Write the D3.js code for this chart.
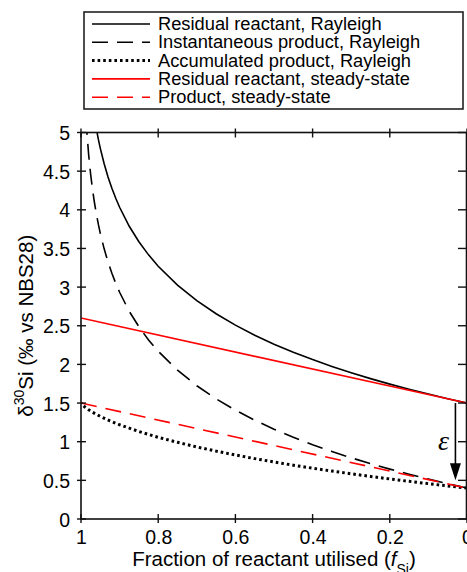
<!DOCTYPE html>
<html><head><meta charset="utf-8">
<script src="https://cdn.jsdelivr.net/npm/d3@7"></script>
<style>
html,body{margin:0;padding:0;background:#fff;}
svg{display:block;}
text{font-family:"Liberation Sans",Arial,Helvetica,sans-serif;fill:#000;}
</style></head>
<body><svg id="c" width="467" height="572"></svg>
<script>
// ---- data ----
const fracRayleigh = [0,0.05,0.1,0.15,0.2,0.25,0.3,0.35,0.4,0.45,0.5,0.55,0.6,0.65,0.7,0.75,0.8,0.825,0.85,0.875,0.9,0.91,0.92,0.93,0.94,0.95,0.955,0.96];
const residualRayleigh = [1.500,1.556,1.616,1.679,1.745,1.816,1.892,1.974,2.062,2.158,2.262,2.378,2.508,2.655,2.824,3.025,3.270,3.417,3.587,3.787,4.033,4.149,4.278,4.425,4.595,4.795,4.911,5.041];
const fracInstant = [0,0.05,0.1,0.15,0.2,0.25,0.3,0.35,0.4,0.45,0.5,0.55,0.6,0.65,0.7,0.75,0.8,0.825,0.85,0.875,0.9,0.91,0.92,0.93,0.94,0.95,0.955,0.96,0.965,0.97,0.975,0.98,0.985];
const instantRayleigh = [0.400,0.456,0.516,0.579,0.645,0.716,0.792,0.874,0.962,1.058,1.162,1.278,1.408,1.555,1.724,1.925,2.170,2.317,2.487,2.687,2.933,3.049,3.178,3.325,3.495,3.695,3.811,3.941,4.088,4.257,4.458,4.703,5.020];
const fracAccum = [0,0.05,0.1,0.15,0.2,0.25,0.3,0.35,0.4,0.45,0.5,0.55,0.6,0.65,0.7,0.75,0.8,0.85,0.9,0.925,0.95,0.97,0.98,0.99,0.995,1];
const accumRayleigh = [0.400,0.428,0.457,0.487,0.518,0.551,0.585,0.620,0.657,0.696,0.738,0.781,0.828,0.878,0.932,0.992,1.057,1.132,1.219,1.269,1.327,1.381,1.412,1.449,1.471,1.500];
const fracSteady = [1,0];
const residualSteady = [2.6,1.5];
const productSteady = [1.5,0.4];
const epsilonArrow = {frac:0.03, from:1.5, to:0.5};
const xTicks = [1,0.8,0.6,0.4,0.2,0];
const xTickLabels = ["1","0.8","0.6","0.4","0.2","0"];
const yTicks = [0,0.5,1,1.5,2,2.5,3,3.5,4,4.5,5];
const yTickLabels = ["0","0.5","1","1.5","2","2.5","3","3.5","4","4.5","5"];
const legendLabels = ["Residual reactant, Rayleigh","Instantaneous product, Rayleigh","Accumulated product, Rayleigh","Residual reactant, steady-state","Product, steady-state"];

// ---- layout ----
const svg = d3.select("#c");
const L = 81, R = 467, T = 132.5, B = 519;
const x = d3.scaleLinear().domain([1,0]).range([L,R]);
const y = d3.scaleLinear().domain([0,5]).range([B,T]);

const styles = [
  {color:"#000", w:1.6, dash:null},
  {color:"#000", w:1.6, dash:"16,9"},
  {color:"#000", w:3, dash:"2.6,3"},
  {color:"#ff0000", w:1.6, dash:null},
  {color:"#ff0000", w:1.6, dash:"16,9"}
];

svg.append("defs").append("clipPath").attr("id","clip")
  .append("rect").attr("x",L).attr("y",T).attr("width",R-L).attr("height",B-T);

const g = svg.append("g").attr("clip-path","url(#clip)");
const line = d3.line().x(d=>x(d[0])).y(d=>y(d[1]));
const zip = (a,b)=>a.map((v,i)=>[v,b[i]]);
const series = [
  zip(fracRayleigh,residualRayleigh),
  zip(fracInstant,instantRayleigh),
  zip(fracAccum,accumRayleigh),
  zip(fracSteady,residualSteady),
  zip(fracSteady,productSteady)
];
[2,0,1,4,3].forEach(i=>{
  const s = styles[i];
  g.append("path").datum(series[i]).attr("d",line)
    .attr("fill","none").attr("stroke",s.color).attr("stroke-width",s.w)
    .attr("stroke-dasharray",s.dash);
});

// axes frame
const axCol = "#111";
svg.append("rect").attr("x",L).attr("y",T).attr("width",R-L-0.5).attr("height",B-T)
  .attr("fill","none").attr("stroke",axCol).attr("stroke-width",1.6);

// bottom axis labels
const xb = svg.append("g").attr("transform",`translate(0,${B})`)
  .call(d3.axisBottom(x).tickValues(xTicks).tickSize(0).tickFormat((d,i)=>xTickLabels[i]));
xb.select(".domain").remove();
xb.selectAll("text").attr("y",25).attr("dy",0).style("font-size","19.5px").style("font-family","Liberation Sans, Arial, sans-serif").attr("fill","#000");
// left axis labels
const yl = svg.append("g").attr("transform",`translate(${L},0)`)
  .call(d3.axisLeft(y).tickValues(yTicks).tickSize(0).tickFormat((d,i)=>yTickLabels[i]));
yl.select(".domain").remove();
yl.selectAll("text").attr("x",-11).attr("dy","0.36em").style("font-size","19.5px").style("font-family","Liberation Sans, Arial, sans-serif").attr("fill","#000");

// tick marks (crossing axis lines)
const tk = svg.append("g").attr("stroke",axCol).attr("stroke-width",1.4);
xTicks.forEach(v=>{
  tk.append("line").attr("x1",x(v)).attr("x2",x(v)).attr("y1",B-5).attr("y2",B+4);
  tk.append("line").attr("x1",x(v)).attr("x2",x(v)).attr("y1",T-4).attr("y2",T+5);
});
yTicks.forEach(v=>{
  tk.append("line").attr("x1",L-4).attr("x2",L+5).attr("y1",y(v)).attr("y2",y(v));
  tk.append("line").attr("x1",R-9).attr("x2",R).attr("y1",y(v)).attr("y2",y(v));
});

// epsilon arrow
const ax = x(epsilonArrow.frac);
const y0 = y(epsilonArrow.from), y1 = y(epsilonArrow.to);
svg.append("line").attr("x1",ax).attr("x2",ax).attr("y1",y0).attr("y2",y1-14)
  .attr("stroke","#000").attr("stroke-width",1.6);
svg.append("path").attr("d",`M${ax-5.5},${y1-17} L${ax+5.5},${y1-17} L${ax},${y1} Z`).attr("fill","#000");
svg.append("text").attr("x",ax-12).attr("y",(y0+y1)/2+8).attr("text-anchor","middle")
  .style("font-family","Liberation Serif, Times New Roman, serif").style("font-style","italic")
  .style("font-size","28px").text("ε");

// axis titles
const xt = svg.append("text").attr("x",(L+R)/2).attr("y",566).attr("text-anchor","middle").style("font-size","20.5px");
xt.append("tspan").text("Fraction of reactant utilised (");
xt.append("tspan").style("font-style","italic").text("f");
xt.append("tspan").attr("dy",8).style("font-size","14px").text("Si");
xt.append("tspan").attr("dy",-8).text(")");

const ytt = svg.append("text").attr("transform",`translate(33,${(T+B)/2}) rotate(-90)`).attr("text-anchor","middle").style("font-size","20.5px");
ytt.append("tspan").text("δ");
ytt.append("tspan").attr("dy",-9).style("font-size","14px").text("30");
ytt.append("tspan").attr("dy",9).text("Si (‰ vs NBS28)");

// legend
const lg = svg.append("g");
lg.append("rect").attr("x",84).attr("y",12).attr("width",379).attr("height",97)
  .attr("fill","#fff").attr("stroke","#222").attr("stroke-width",1.6);
legendLabels.forEach((lab,i)=>{
  const by = 30 + i*18.3;
  const s = styles[i];
  lg.append("line").attr("x1",92).attr("x2",150).attr("y1",by-6).attr("y2",by-6)
    .attr("stroke",s.color).attr("stroke-width",i===2?3:1.6).attr("stroke-dasharray",s.dash);
  lg.append("text").attr("x",158).attr("y",by).style("font-size","18.3px").text(lab);
});
</script></body></html>
